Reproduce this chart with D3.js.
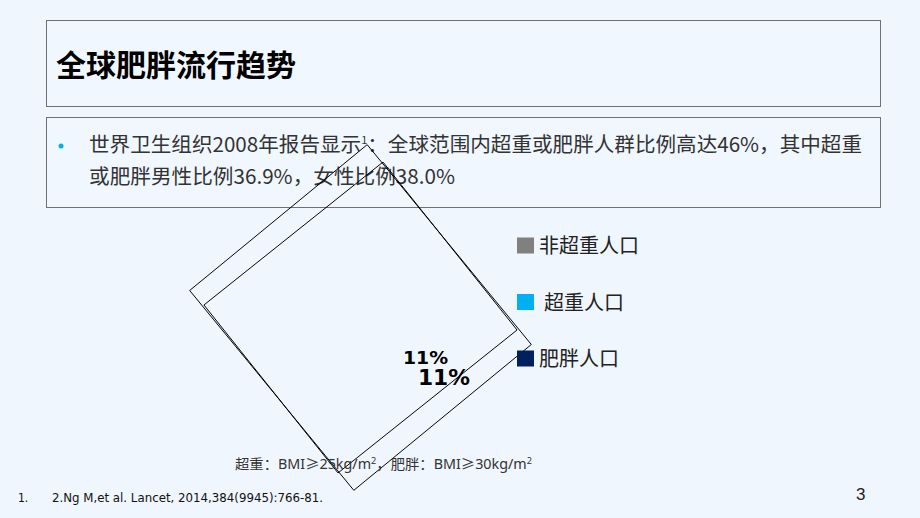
<!DOCTYPE html>
<html><head><meta charset="utf-8">
<script src="https://cdn.jsdelivr.net/npm/d3@7"></script>
<style>
html,body{margin:0;padding:0;background:#EFF6FD;}
svg{display:block;}
</style></head>
<body>
<svg id="chart" width="920" height="518"></svg>
<script>
// ---- data ----
const categories = ["非超重人口", "超重人口", "肥胖人口"];
const values = [54, 35, 11];
const colors = ["#808080", "#00B0F0", "#002060"];
const valueLabels = ["11%", "11%"];
const titleText = "全球肥胖流行趋势";
const bulletLine1 = ["世界卫生组织2008年报告显示", "1", "：全球范围内超重或肥胖人群比例高达46%，其中超重"];
const bulletLine2 = "或肥胖男性比例36.9%，女性比例38.0%";
const noteParts = ["超重：BMI≥25kg/m", "2", "，肥胖：BMI≥30kg/m", "2"];
const footnote = ["1.", "2.Ng M,et al. Lancet, 2014,384(9945):766-81."];
const pageNumber = "3";

const svg = d3.select("#chart");
const cjk = "'Noto Sans CJK SC','Noto Sans',sans-serif";

// background
svg.append("rect").attr("width",920).attr("height",518).attr("fill","#EFF6FD");

// title box
svg.append("rect").attr("x",46.5).attr("y",20.5).attr("width",834).attr("height",86)
  .attr("fill","#F0F7FE").attr("stroke","#707070").attr("stroke-width",1);
svg.append("text").attr("x",56).attr("y",76).attr("font-family",cjk)
  .attr("font-size",30).attr("font-weight","bold").attr("fill","#000").text(titleText);

// bullet box
svg.append("rect").attr("x",46.5).attr("y",117.5).attr("width",834).attr("height",90)
  .attr("fill","#F0F7FE").attr("stroke","#707070").attr("stroke-width",1);
svg.append("circle").attr("cx",61).attr("cy",146).attr("r",2.5).attr("fill","#00B0F0");
const t1 = svg.append("text").attr("x",89).attr("y",152).attr("font-family",cjk)
  .attr("font-size",20.5).attr("fill","#333").attr("textLength",773).attr("lengthAdjust","spacingAndGlyphs");
t1.append("tspan").text(bulletLine1[0]);
t1.append("tspan").attr("font-size",11).attr("dy",-8).text(bulletLine1[1]);
t1.append("tspan").attr("dy",8).text(bulletLine1[2]);
svg.append("text").attr("x",89).attr("y",184).attr("font-family",cjk)
  .attr("font-size",20.5).attr("fill","#333").attr("textLength",366).attr("lengthAdjust","spacingAndGlyphs")
  .text(bulletLine2);

// ---- pie (rendered as rotated frames, as in the reference) ----
const pie = d3.pie().sort(null)(values);
const center = [360.5, 317.5];
const frames = [
  {w: 258.6, h: 229.7, angle: 50.6},
  {w: 214.9, h: 229.1, angle: 51.4}
];
svg.append("g").selectAll("rect").data(frames).join("rect")
  .attr("x", d => -d.w/2).attr("y", d => -d.h/2)
  .attr("width", d => d.w).attr("height", d => d.h)
  .attr("transform", d => `translate(${center[0]},${center[1]}) rotate(${d.angle})`)
  .attr("fill","none").attr("stroke","#000").attr("stroke-width",0.9);

// value labels
const labelPos = [{x:403, y:364, size:18.5, len:45}, {x:418, y:385, size:21, len:52}];
svg.append("g").selectAll("text").data(valueLabels).join("text")
  .attr("x",(d,i)=>labelPos[i].x).attr("y",(d,i)=>labelPos[i].y)
  .attr("font-family","'DejaVu Sans',Verdana,sans-serif").attr("font-weight","bold")
  .attr("font-size",(d,i)=>labelPos[i].size)
  .attr("textLength",(d,i)=>labelPos[i].len).attr("lengthAdjust","spacingAndGlyphs")
  .attr("fill","#000").text(d=>d);

// legend
const ly = d3.scalePoint().domain(categories).range([245.5, 358.5]);
const lg = svg.append("g").selectAll("g").data(categories).join("g")
  .attr("transform", d => `translate(517,${ly(d)})`);
lg.append("rect").attr("x",0).attr("y",-8).attr("width",17).attr("height",16)
  .attr("fill",(d,i)=>colors[i]);
lg.append("text").attr("x",(d,i)=> i===1 ? 27 : 22).attr("y",7.5)
  .attr("font-family",cjk).attr("font-size",20).attr("fill","#222").text(d=>d);

// BMI note
const nt = svg.append("text").attr("x",235).attr("y",469).attr("font-family","'Noto Sans','Noto Sans CJK SC',sans-serif")
  .attr("font-size",14).attr("fill","#333").attr("textLength",297).attr("lengthAdjust","spacingAndGlyphs");
nt.append("tspan").text(noteParts[0]);
nt.append("tspan").attr("font-size",9).attr("dy",-5).text(noteParts[1]);
nt.append("tspan").attr("dy",5).text(noteParts[2]);
nt.append("tspan").attr("font-size",9).attr("dy",-5).text(noteParts[3]);

// footnote
svg.append("text").attr("x",18).attr("y",502).attr("font-family","'DejaVu Sans Condensed','Liberation Sans Narrow',sans-serif")
  .attr("font-size",12).attr("fill","#111").text(footnote[0]);
svg.append("text").attr("x",52).attr("y",502).attr("font-family","'DejaVu Sans Condensed','Liberation Sans Narrow',sans-serif")
  .attr("font-size",12).attr("fill","#111").attr("textLength",271).attr("lengthAdjust","spacingAndGlyphs").text(footnote[1]);

// page number
svg.append("text").attr("x",856).attr("y",500).attr("font-family","'Liberation Sans',sans-serif")
  .attr("font-size",17).attr("fill","#222").text(pageNumber);
</script>
</body></html>
